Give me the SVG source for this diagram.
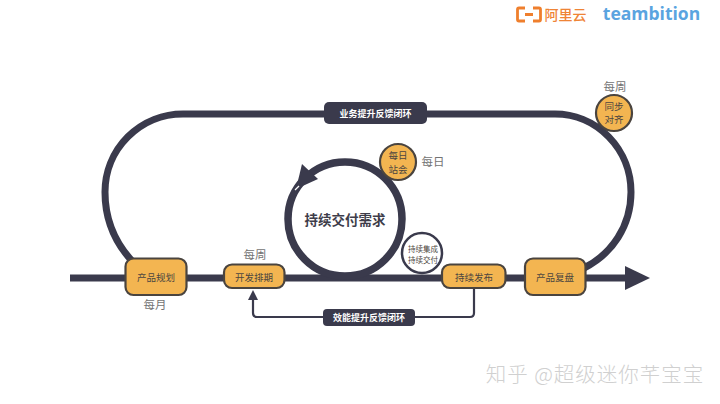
<svg xmlns="http://www.w3.org/2000/svg" width="720" height="404" viewBox="0 0 720 404">
<style>
text{font-family:"Noto Sans CJK SC","Noto Sans",sans-serif;text-anchor:middle}
.thick{fill:none;stroke:#3a3a4c;stroke-width:7}
.ring{fill:#fff;stroke:#3a3a4c;stroke-width:7.500}
.thin{fill:none;stroke:#3a3a4c;stroke-width:2.2}
.node{fill:#f3b551;stroke:#4a443f;stroke-width:2.2}
.lbl{fill:#4c4640;font-size:9.5px;font-weight:400}
.note{fill:#737373;font-size:11.5px}
.pill{fill:#3a3a4c}
.pilltext{fill:#fff;font-size:9px;font-weight:700}
</style>
<rect width="720" height="404" fill="#fff"/>
<g id="connectors">
<path class="thick" d="M70 278H626"/>
<path d="M625 266L650 278L625 290Z" fill="#3a3a4c"/>
<path class="thick" d="M133 262C115 243 105 220 105 192A78 78 0 0 1 183 114H555A76 78 0 0 1 631 192C631 226 612 254 584 268"/>
<circle class="ring" cx="345" cy="219" r="57"/>
<path d="M302 164L318 179L296 189Z" fill="#3a3a4c"/>
<path d="M295 190L299 186" stroke="#fff" stroke-width="1.200" fill="none"/>
<path class="thin" d="M474 288V313Q474 317 470 317H257Q253 317 253 313V298"/>
<path d="M253 290L258 300H248Z" fill="#3a3a4c"/>
</g>
<g id="node-business-feedback"><rect class="pill" x="324" y="102" width="103" height="22" rx="5"/><text class="pilltext" x="375.500" y="116.500">业务提升反馈闭环</text></g>
<g id="node-efficiency-feedback"><rect class="pill" x="323" y="309" width="92" height="17" rx="4"/><text class="pilltext" x="369" y="321">效能提升反馈闭环</text></g>
<g id="node-center"><text x="345" y="225" fill="#3e3d4a" font-size="13.500" font-weight="700">持续交付需求</text></g>
<g id="node-daily"><circle class="node" cx="398" cy="162" r="18"/><text class="lbl" x="398" y="159">每日</text><text class="lbl" x="398" y="172.500">站会</text></g>
<g id="note-daily"><text class="note" x="433" y="166">每日</text></g>
<g id="node-ci"><circle cx="422" cy="253" r="20" fill="#fff" stroke="#3a3a4c" stroke-width="2.500"/><text x="423" y="252" fill="#4c4640" font-size="7.500">持续集成</text><text x="423" y="262.500" fill="#4c4640" font-size="7.500">持续交付</text></g>
<g id="node-plan"><rect class="node" x="125.500" y="258.500" width="61" height="36.500" rx="8"/><text class="lbl" x="156" y="281">产品规划</text></g>
<g id="note-monthly"><text class="note" x="155" y="309">每月</text></g>
<g id="node-schedule"><rect class="node" x="224" y="264.500" width="60.500" height="23.500" rx="8"/><text class="lbl" x="254" y="281">开发排期</text></g>
<g id="note-weekly-schedule"><text class="note" x="255" y="259">每周</text></g>
<g id="node-release"><rect class="node" x="442" y="264.500" width="63.500" height="23.500" rx="8"/><text class="lbl" x="474" y="281">持续发布</text></g>
<g id="node-review"><rect class="node" x="525" y="258.500" width="60.500" height="36.500" rx="8"/><text class="lbl" x="555" y="281">产品复盘</text></g>
<g id="node-sync"><circle class="node" cx="614" cy="113" r="18"/><text class="lbl" x="614" y="109.500">同步</text><text class="lbl" x="614" y="123">对齐</text></g>
<g id="note-weekly-sync"><text class="note" x="615" y="91">每周</text></g>
<g id="logos">
<path d="M525 8H519Q517.500 8 517.500 9.500V19.500Q517.500 21 519 21H525M533 8H539Q540.500 8 540.500 9.500V19.500Q540.500 21 539 21H533M525 14.500H533" fill="none" stroke="#ef7f2d" stroke-width="2.800"/>
<text x="565.500" y="20" fill="#ef8436" font-size="14" font-weight="500">阿里云</text>
<text x="651.500" y="20" fill="#5aa4e0" font-size="17.500" font-weight="700" style="font-family:'Open Sans',sans-serif">teambition</text>
</g>
<g id="watermark"><text x="595" y="382" fill="#d0d0d0" font-size="20.500" font-weight="300" letter-spacing="1">知乎 @超级迷你芊宝宝</text></g>
</svg>
